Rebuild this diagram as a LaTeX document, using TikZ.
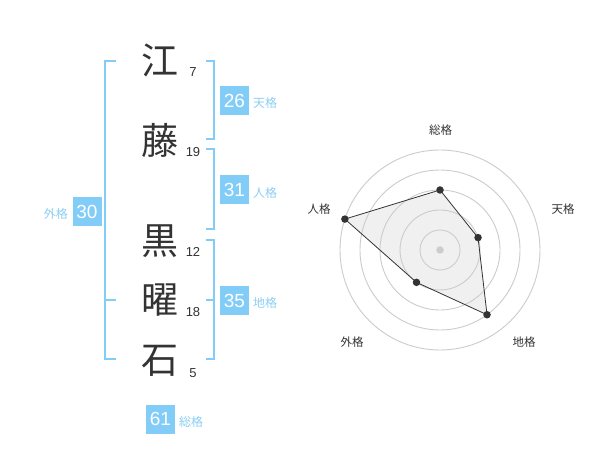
\documentclass[tikz,border=0pt]{standalone}
\usepackage{fontspec}
\setmainfont{Liberation Sans}
\newfontfamily\jp{Noto Sans CJK JP}
\usetikzlibrary{calc}
\definecolor{ink}{HTML}{333333}
\definecolor{skyb}{HTML}{82CCF8}
\definecolor{lblue}{HTML}{8CCFF4}
\definecolor{ringc}{HTML}{CCCCCC}
\definecolor{areac}{HTML}{F0F0F0}
\begin{document}
\begin{tikzpicture}[x=1pt,y=-1pt,
  kanji/.style={font=\jp\fontsize{37}{37}\selectfont, text=ink, inner sep=0pt},
  strokes/.style={font=\fontsize{13}{13}\selectfont, text=ink, inner sep=0pt},
  valbox/.style={fill=skyb, text=white, font=\fontsize{19}{19}\selectfont, minimum width=29pt, minimum height=29pt, inner sep=0pt},
  kaku/.style={font=\jp\fontsize{12}{12}\selectfont, text=lblue, inner sep=0pt},
  brk/.style={draw=skyb, line width=1.8pt},
  ring/.style={draw=ringc, line width=0.9pt},
  axlab/.style={font=\jp\fontsize{11.5}{11.5}\selectfont, text=ink, inner sep=0pt},
  dot/.style={circle, fill=ink, inner sep=0pt, minimum size=7.5pt}
]
\useasboundingbox (0,0) rectangle (600,470);
\fill[white] (0,0) rectangle (600,470);

% brackets
\draw[brk] (116,61) -- (105,61) -- (105,359) -- (116,359);
\draw[brk] (105,300) -- (116,300);
\draw[brk] (206,61) -- (214,61) -- (214,139) -- (206,139);
\draw[brk] (206,149) -- (214,149) -- (214,229) -- (206,229);
\draw[brk] (206,240) -- (214,240) -- (214,359) -- (206,359);
\draw[brk] (206,300) -- (214,300);

% characters
\node[kanji] (k1) at (160,60) {江};
\node[kanji] (k2) at (160,140) {藤};
\node[kanji] (k3) at (160,241) {黒};
\node[kanji] (k4) at (160,300) {曜};
\node[kanji] (k5) at (160,361) {石};
\node[strokes] (s1) at (193,72) {7};
\node[strokes] (s2) at (193,152) {19};
\node[strokes] (s3) at (193,252) {12};
\node[strokes] (s4) at (193,312) {18};
\node[strokes] (s5) at (193,373) {5};

% value boxes
\node[valbox] (b1) at (234.5,100.5) {26};
\node[kaku, anchor=west] (l1) at (253,103) {天格};
\node[valbox] (b2) at (234.5,190) {31};
\node[kaku, anchor=west] (l2) at (253,193) {人格};
\node[valbox] (b3) at (234.5,300.5) {35};
\node[kaku, anchor=west] (l3) at (253,303) {地格};
\node[valbox] (b4) at (87,212) {30};
\node[kaku, anchor=east] (l4) at (68,214) {外格};
\node[valbox] (b5) at (160.5,419) {61};
\node[kaku, anchor=west] (l5) at (179,422) {総格};

% radar chart
\coordinate (c) at (440,250);
\coordinate (pS) at ($(c)+(-90:60)$);
\coordinate (pT) at ($(c)+(-18:40)$);
\coordinate (pC) at ($(c)+(54:80)$);
\coordinate (pG) at ($(c)+(126:40)$);
\coordinate (pJ) at ($(c)+(198:100)$);
\fill[areac] (pS) -- (pT) -- (pC) -- (pG) -- (pJ) -- cycle;
\foreach \r in {20,40,60,80,100} \draw[ring] (c) circle[radius=\r pt];
\draw[ink, line width=0.8pt] (pS) -- (pT) -- (pC) -- (pG) -- (pJ) -- cycle;
\node[circle, fill=ringc, inner sep=0pt, minimum size=7.5pt] (cd) at (c) {};
\node[dot] (dS) at (pS) {};
\node[dot] (dT) at (pT) {};
\node[dot] (dC) at (pC) {};
\node[dot] (dG) at (pG) {};
\node[dot] (dJ) at (pJ) {};
\node[axlab] (aS) at (440.5,130) {総格};
\node[axlab] (aT) at (563,209) {天格};
\node[axlab] (aJ) at (319,209) {人格};
\node[axlab] (aG) at (352,342) {外格};
\node[axlab] (aC) at (524,342) {地格};
\end{tikzpicture}
\end{document}
